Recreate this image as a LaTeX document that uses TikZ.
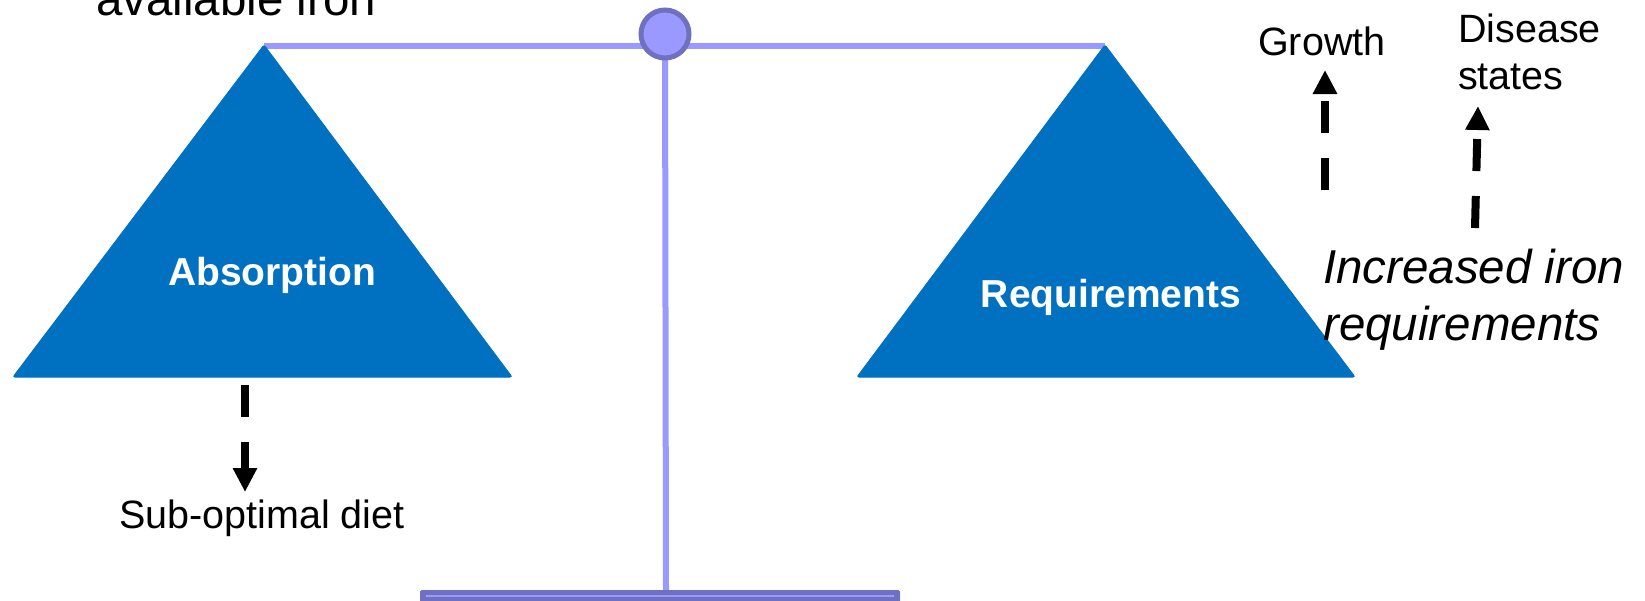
\documentclass[tikz,border=0pt]{standalone}
\usepackage{fontspec}
\setmainfont{Liberation Sans}
\usetikzlibrary{arrows.meta}
\definecolor{triblue}{HTML}{0070C0}
\definecolor{scalelight}{HTML}{9999FF}
\definecolor{scaledark}{HTML}{7070C0}
\tikzset{
  pan/.style={fill=triblue, draw=triblue, line width=1pt, rounded corners=2pt},
  beam/.style={draw=scalelight, line width=6pt},
  panlabel/.style={text=white, font=\fontsize{39}{47}\selectfont\bfseries, inner sep=0pt, anchor=base},
  plainlabel/.style={text=black, font=\fontsize{39.5}{47}\selectfont, inner sep=0pt},
  biglabel/.style={text=black, font=\fontsize{47.5}{57}\selectfont, inner sep=0pt},
  dasharrow/.style={draw=black, line width=8pt, dash pattern=on 32pt off 25pt,
    -{Triangle[width=23pt,length=24pt]}}
}
\begin{document}
\begin{tikzpicture}[x=1pt,y=-1pt]
\useasboundingbox (0,0) rectangle (1645,600);
\clip (0,0) rectangle (1645,600);
% beam and post
\coordinate (pivot) at (665,34);
\coordinate (beamL) at (264,46);
\coordinate (beamR) at (1105,46);
\coordinate (postfoot) at (666,592);
\draw[beam] (beamL) -- (beamR);
\draw[beam] (pivot) -- (postfoot);
% base
\draw[fill=scaledark, draw=scaledark, line width=2pt, rounded corners=1pt] (421,591) rectangle (899,606);
\draw[draw=scalelight, line width=2pt] (426,596) -- (894,596);
% pivot circle
\node[circle, fill=scalelight, draw=scaledark, line width=5pt, minimum size=48pt, inner sep=0pt] (knob) at (pivot) {};
% pans
\draw[pan] (264,45) -- (512,377) -- (13,377) -- cycle;
\draw[pan] (1105,45) -- (1355,377) -- (857,377) -- cycle;
% labels
\node[panlabel] (absorption) at (272,285) {Absorption};
\node[panlabel] (requirements) at (1111,307) {Requirements};
\node[plainlabel, anchor=base] (diet) at (262,528) {Sub-optimal diet};
\node[plainlabel, anchor=base west] (growth) at (1258,55) {Growth};
\node[plainlabel, anchor=base west, align=left] (disease) at (1458,89) {Disease\\states};
\node[biglabel, anchor=base west, font=\fontsize{47.5}{57}\selectfont\itshape, align=left] (increased) at (1323,340) {Increased iron\\requirements};
\node[biglabel, anchor=base west] (avail) at (96,15) {available iron};
% arrows
\coordinate (absStart) at (245,385);
\coordinate (absEnd) at (245,492);
\draw[dasharrow] (absStart) -- (absEnd);
\coordinate (growStart) at (1325,190);
\coordinate (growEnd) at (1325,70);
\draw[dasharrow] (growStart) -- (growEnd);
\coordinate (disStart) at (1475,228);
\coordinate (disEnd) at (1478,106);
\draw[dasharrow] (disStart) -- (disEnd);
\end{tikzpicture}
\end{document}
